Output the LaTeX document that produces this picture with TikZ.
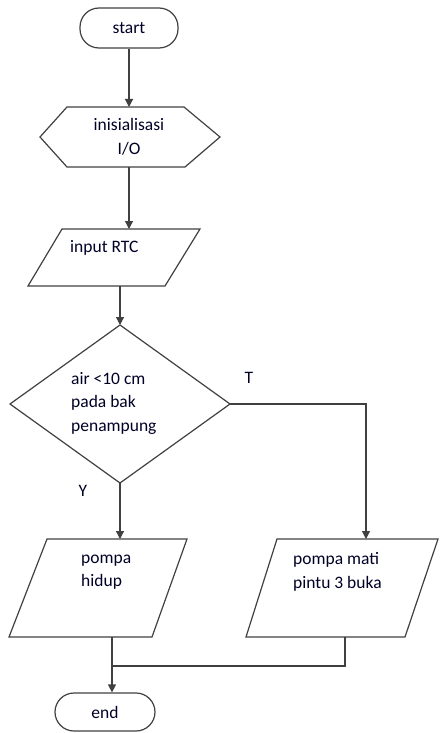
\documentclass[tikz,border=0pt]{standalone}
\usepackage{fontspec}
\setmainfont{Carlito}
\usetikzlibrary{arrows.meta}

\begin{document}
\begin{tikzpicture}[x=1pt,y=-1pt,
  shp/.style={draw=black!75,line width=1.2pt},
  term/.style={shp,rounded corners=19pt,minimum width=98pt,minimum height=40pt,inner sep=0pt},
  txt/.style={font=\fontsize{17.5}{23.5}\selectfont,inner sep=0pt,align=left,text=black!85!blue},
  arr/.style={draw=black!75,line width=1.2pt,-{Triangle[length=8pt,width=8pt]}},
  lin/.style={draw=black!75,line width=1.2pt}]
\path[use as bounding box] (0,0) rectangle (439,733);
% start
\node[term,txt] (start) at (129,28) {start};
% inisialisasi
\draw[shp] (40,137)--(67,107)--(184,107)--(220,137)--(185,167)--(67,167)--cycle;
\coordinate (initN) at (129,107);
\coordinate (initS) at (129,167);
\node[txt,align=center] (initT) at (129,137) {inisialisasi\\I/O};
% input RTC
\draw[shp] (62,229)--(200,229)--(165,286)--(28,286)--cycle;
\coordinate (rtcN) at (129,229);
\coordinate (rtcS) at (120,286);
\node[txt,anchor=west] (rtcT) at (70,248) {input RTC};
% keputusan
\draw[shp] (120,325)--(230,404)--(120,483)--(10,404)--cycle;
\coordinate (decN) at (120,325);
\coordinate (decE) at (230,404);
\coordinate (decS) at (120,483);
\node[txt,anchor=west] (decT) at (71,403) {air <10 cm\\pada bak\\penampung};
\node[txt] (lblT) at (249,378) {T};
\node[txt] (lblY) at (83,491) {Y};
% pompa hidup
\draw[shp] (47,539)--(187,539)--(152,637)--(9,637)--cycle;
\coordinate (hidN) at (120,539);
\coordinate (hidS) at (112,637);
\node[txt,anchor=west] (hidT) at (81,572) {pompa\\hidup};
% pompa mati
\draw[shp] (277,539)--(438,539)--(405,637)--(246,637)--cycle;
\coordinate (matN) at (366,539);
\coordinate (matS) at (345,637);
\node[txt,anchor=west] (matT) at (293,572) {pompa mati\\pintu 3 buka};
% end
\node[term,txt,minimum width=100pt,minimum height=38pt] (stop) at (105,712) {end};
\coordinate (join) at (112,666);

\draw[arr] (start) -- (initN);
\draw[arr] (initS) -- (rtcN);
\draw[arr] (rtcS) -- (decN);
\draw[arr] (decS) -- (hidN);
\draw[arr] (decE) -| (matN);
\draw[arr] (hidS) -- (hidS |- stop.north);
\draw[lin] (matS) |- (join);
\end{tikzpicture}
\end{document}
